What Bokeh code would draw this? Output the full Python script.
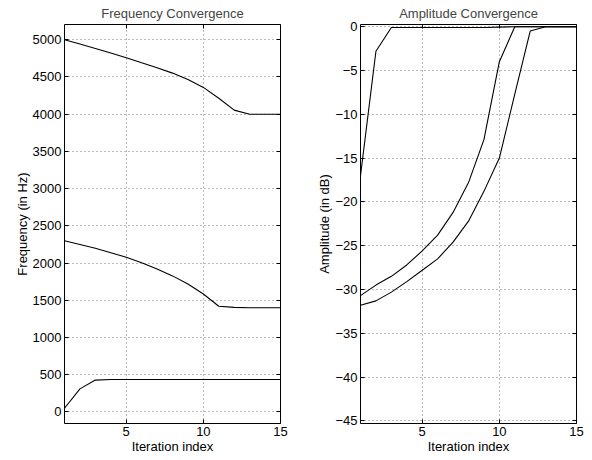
from bokeh.plotting import figure
from bokeh.layouts import row
from bokeh.models import LinearAxis, FixedTicker, Range1d
from bokeh.embed import file_html
from bokeh.resources import INLINE

iterations = list(range(1, 16))

freq_high = [5000, 4942, 4883, 4821, 4758, 4690, 4623, 4552, 4466, 4360, 4215, 4055, 4000, 4000, 4000]
freq_mid = [2300, 2250, 2200, 2140, 2078, 2005, 1922, 1828, 1720, 1585, 1420, 1405, 1400, 1400, 1400]
freq_low = [50, 310, 428, 437, 437, 437, 437, 437, 437, 437, 437, 437, 437, 437, 437]

amp_a = [-17.0, -2.8, -0.1, -0.1, -0.1, -0.1, -0.1, -0.1, -0.1, -0.05, 0, 0, 0, 0, 0]
amp_b = [-30.7, -29.5, -28.5, -27.2, -25.6, -23.8, -21.2, -17.8, -12.9, -4.0, 0, 0, 0, 0, 0]
amp_c = [-31.8, -31.3, -30.3, -29.1, -27.8, -26.5, -24.6, -22.2, -18.8, -15.0, -7.7, -0.5, 0, 0, 0]

x_ticks = [5, 10, 15]
freq_ticks = list(range(0, 5001, 500))
amp_ticks = list(range(-45, 1, 5))

FONT = "Liberation Sans"
FS = "13px"


def style(p, yticks, overrides=None):
    p.title.text_font = FONT
    p.title.text_font_size = FS
    p.title.text_font_style = "normal"
    p.title.align = "center"
    p.title.standoff = 7
    p.outline_line_color = "black"
    p.outline_line_width = 1
    p.outline_line_alpha = 1
    for ax in p.xaxis + p.yaxis:
        ax.axis_line_color = None
        ax.major_tick_in = 4
        ax.major_tick_out = 0
        ax.minor_tick_line_color = None
        ax.major_tick_line_color = "black"
        ax.major_label_text_font = FONT
        ax.major_label_text_font_size = FS
        ax.major_label_text_color = "black"
        ax.axis_label_text_font = FONT
        ax.axis_label_text_font_size = FS
        ax.axis_label_text_font_style = "normal"
        ax.axis_label_text_color = "black"
        ax.major_label_standoff = 3
        ax.axis_label_standoff = 0
    p.xaxis.ticker = FixedTicker(ticks=x_ticks)
    p.yaxis.ticker = FixedTicker(ticks=yticks)
    if overrides:
        p.yaxis.major_label_overrides = overrides
    for g in (p.xgrid, p.ygrid):
        g.grid_line_color = "#555555"
        g.grid_line_dash = "1 3"
        g.grid_line_width = 1
        g.grid_line_alpha = 0.8
    p.xgrid.ticker = FixedTicker(ticks=x_ticks)
    p.ygrid.ticker = FixedTicker(ticks=yticks)
    top = LinearAxis(ticker=FixedTicker(ticks=x_ticks),
                     major_label_overrides={t: "" for t in x_ticks},
                     major_tick_in=4, major_tick_out=0, axis_line_color=None,
                     minor_tick_line_color=None, major_label_standoff=0)
    right = LinearAxis(ticker=FixedTicker(ticks=yticks),
                       major_label_overrides={t: "" for t in yticks},
                       major_tick_in=4, major_tick_out=0, axis_line_color=None,
                       minor_tick_line_color=None, major_label_standoff=0)
    p.add_layout(top, "above")
    p.add_layout(right, "right")
    p.background_fill_color = "white"
    p.border_fill_color = "white"


p1 = figure(width=300, height=460, output_backend="svg", toolbar_location=None,
            title="Frequency Convergence",
            x_range=Range1d(1, 15), y_range=Range1d(-155, 5205),
            min_border_left=64, min_border_right=20, min_border_top=24, min_border_bottom=37)
p1.xaxis.axis_label = "Iteration index"
p1.yaxis.axis_label = "Frequency (in Hz)"
for ys in (freq_high, freq_mid, freq_low):
    p1.line(iterations, ys, line_color="black", line_width=1.1)
style(p1, freq_ticks)

p2 = figure(width=292, height=460, output_backend="svg", toolbar_location=None,
            title="Amplitude Convergence",
            x_range=Range1d(1, 15), y_range=Range1d(-45.3, 0.25),
            min_border_left=60, min_border_right=16, min_border_top=24, min_border_bottom=37)
p2.xaxis.axis_label = "Iteration index"
p2.yaxis.axis_label = "Amplitude (in dB)"
for ys in (amp_a, amp_b, amp_c):
    p2.line(iterations, ys, line_color="black", line_width=1.1)
amp_labels = {t: ("\u2212" + str(-t)) if t < 0 else str(t) for t in amp_ticks}
style(p2, amp_ticks, amp_labels)

layout = row(p1, p2)
open("out.html", "w").write(file_html(layout, INLINE))
